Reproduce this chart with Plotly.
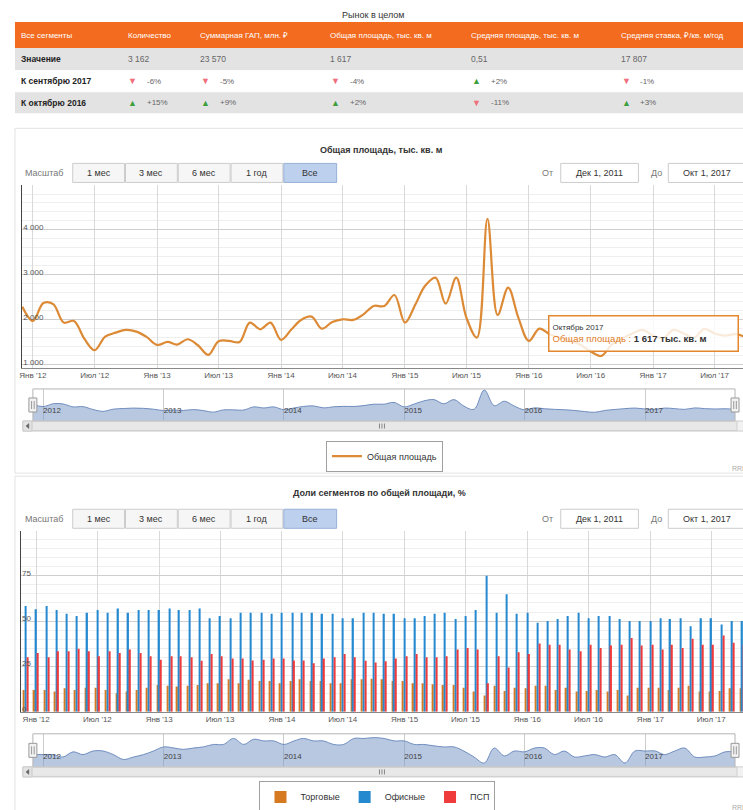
import plotly.graph_objects as go
import pandas as pd

W, H = 743, 810          # reference pixel grid
FIG_H = 814


def X(px):
    return px / W


def Y(py):
    return 1 - py / H


# ---------------- data ----------------
months = pd.date_range("2011-12-01", "2017-10-01", freq="MS")  # Дек 2011 .. Окт 2017

total_area = [2294, 1977, 2376, 2350, 1940, 1977, 1577, 1326, 1628, 1717, 1777, 1740,
              1622, 1444, 1510, 1451, 1570, 1437, 1222, 1526, 1533, 1510, 1940, 1792,
              1940, 1555, 1792, 2000, 2073, 1806, 1955, 2014, 2000, 2125, 2310, 2310,
              2554, 1940, 2347, 2754, 2940, 2362, 2940, 2050, 1606, 4250, 2110, 2717,
              2051, 1533, 1806, 1688, 1600, 1550, 1450, 1300, 1200, 1450, 1585, 1700,
              1780, 1650, 1600, 1780, 1700, 1600, 1800, 1700, 1650, 1684, 1617]

share_retail = [12.0, 12.0, 12.0, 11.1, 13.0, 12.0, 13.3, 13.3, 12.0, 10.2, 11.1, 12.0,
                13.3, 14.8, 14.4, 13.9, 14.4, 14.8, 15.7, 15.7, 17.9, 15.7, 17.6, 17.0,
                17.0, 15.7, 17.0, 17.9, 17.0, 17.0, 15.7, 15.7, 17.9, 17.9, 18.2,
                17.9, 17.0, 17.0, 15.7, 15.7, 15.2, 14.8, 14.8, 13.3, 11.1,
                8.9, 14.4, 11.5, 13.3, 13.0, 14.4, 14.4, 12.0, 13.3, 11.1,
                11.5, 12.0, 11.1, 12.0, 8.9, 13.3, 13.3, 13.3, 12.0, 13.3,
                14.4, 11.1, 11.1, 11.5, 13.0, 13.0]

share_office = [58.3, 56.5, 58.3, 56.1, 54.1, 52.8, 54.6, 56.1, 54.6, 57.0, 54.6, 56.1,
                56.1, 56.1, 57.0, 56.1, 56.1, 57.0, 51.5, 52.8, 51.5, 54.6, 54.6, 54.6,
                54.1, 54.6, 54.6, 54.6, 54.6, 54.1, 54.1, 51.5, 51.5, 54.6, 54.6,
                54.1, 54.1, 51.5, 51.5, 52.8, 54.1, 54.6, 51.1, 52.8, 56.1,
                75.0, 54.6, 64.8, 54.1, 54.6, 49.1, 50.0, 51.1, 52.8, 54.6,
                51.5, 52.8, 52.8, 51.1, 50.0, 50.0, 50.0, 51.5, 51.1, 51.5,
                47.2, 51.5, 51.5, 48.1, 50.0, 50.0]

share_industrial = [30.0, 32.4, 30.0, 33.3, 33.3, 34.8, 33.3, 30.6, 33.3, 32.4, 34.3, 32.4,
                    30.6, 28.7, 30.6, 30.6, 30.0, 28.1, 31.9, 30.6, 29.3, 29.3, 28.3, 28.7,
                    29.3, 29.3, 28.3, 28.3, 26.8, 29.3, 30.0, 31.9, 30.0, 28.1, 27.2,
                    27.8, 29.3, 30.6, 31.9, 30.0, 30.0, 30.6, 34.3, 35.2, 34.3,
                    15.7, 30.6, 24.4, 32.8, 31.9, 37.6, 37.0, 37.0, 34.3, 33.3,
                    37.0, 35.2, 36.5, 37.0, 40.7, 36.5, 37.0, 34.3, 37.0, 35.2,
                    40.2, 37.0, 37.0, 42.0, 38.0, 37.0]

table_title = "Рынок в целом"
table_header = ["Все сегменты", "Количество", "Суммарная ГАП, млн. ₽",
                "Общая площадь, тыс. кв. м", "Средняя площадь, тыс. кв. м",
                "Средняя ставка, ₽/кв. м/год"]
row_labels = ["Значение", "К сентябрю 2017", "К октябрю 2016"]
values_now = ["3 162", "23 570", "1 617", "0,51", "17 807"]
chg_sep2017 = [-6, -5, -4, 2, -1]
chg_oct2016 = [15, 9, 2, -11, 3]

tick_dates = ["2012-01-01", "2012-07-01", "2013-01-01", "2013-07-01", "2014-01-01",
              "2014-07-01", "2015-01-01", "2015-07-01", "2016-01-01", "2016-07-01",
              "2017-01-01", "2017-07-01"]
tick_labels = ["Янв '12", "Июл '12", "Янв '13", "Июл '13", "Янв '14", "Июл '14",
               "Янв '15", "Июл '15", "Янв '16", "Июл '16", "Янв '17", "Июл '17"]
nav_dates = ["2012-01-01", "2013-01-01", "2014-01-01", "2015-01-01", "2016-01-01", "2017-01-01"]
nav_labels = ["2012", "2013", "2014", "2015", "2016", "2017"]

chart1_title = "Общая площадь, тыс. кв. м"
chart2_title = "Доли сегментов по общей площади, %"
zoom_label = "Масштаб"
zoom_buttons = ["1 мес", "3 мес", "6 мес", "1 год", "Все"]
date_from = "Дек 1, 2011"
date_to = "Окт 1, 2017"
series_line = "Общая площадь"
series_bars = ["Торговые", "Офисные", "ПСП"]
tooltip_month = "Октябрь 2017"
unit = "тыс. кв. м"

# ---------------- styles ----------------
ORANGE = "#f26b1f"
LINE_C = "#dc8a35"
BAR_COLORS = ["#d67a22", "#2589d0", "#ef3b3b"]
GRID = "#d9d9d9"
MINOR = "#efefef"
FONT = "Liberation Sans, Arial, sans-serif"


def px_to_date(px, anchor_px, anchor_date, px_per_day):
    return pd.Timestamp(anchor_date) + pd.Timedelta(days=(px - anchor_px) / px_per_day)


L1 = 19
x1_range = [px_to_date(L1, 30, "2012-01-01", 0.3411), px_to_date(W, 652.7, "2017-01-01", 0.3411)]
L3 = 17.7
x3_range = [px_to_date(L3, 33.3, "2012-01-01", 0.3377), px_to_date(W, 650, "2017-01-01", 0.3377)]
NAV_L, NAV_R = 30, 735

fig = go.Figure()

# ---------------- line chart ----------------
fig.add_trace(go.Scatter(x=months, y=total_area, mode="lines", name=series_line,
                         line=dict(color=LINE_C, width=2.2, shape="spline", smoothing=1),
                         xaxis="x", yaxis="y", legend="legend", hoverinfo="skip"))
fig.add_trace(go.Scatter(x=months, y=total_area, mode="lines", fill="tozeroy",
                         fillcolor="rgba(125,155,200,0.55)",
                         line=dict(color="#6f8dbf", width=1, shape="spline"),
                         xaxis="x2", yaxis="y2", showlegend=False, hoverinfo="skip"))

# ---------------- bar chart ----------------
for name, vals, col in zip(series_bars, [share_retail, share_office, share_industrial], BAR_COLORS):
    fig.add_trace(go.Bar(x=months, y=vals, name=name, marker=dict(color=col, line=dict(width=0)),
                         xaxis="x3", yaxis="y3", legend="legend2", hoverinfo="skip"))
fig.add_trace(go.Scatter(x=months, y=share_retail, mode="lines", fill="tozeroy",
                         fillcolor="rgba(125,155,200,0.55)",
                         line=dict(color="#6f8dbf", width=1, shape="spline"),
                         xaxis="x4", yaxis="y4", showlegend=False, hoverinfo="skip"))

shapes = []
annotations = []


def rect(x0, y0, x1, y1, fill, line, width=1, layer="above"):
    shapes.append(dict(type="rect", xref="paper", yref="paper", x0=X(x0), x1=X(x1),
                       y0=Y(y1), y1=Y(y0), fillcolor=fill,
                       line=dict(color=line, width=width), layer=layer))


def seg(x0, y0, x1, y1, color, width=1):
    shapes.append(dict(type="line", xref="paper", yref="paper", x0=X(x0), x1=X(x1),
                       y0=Y(y0), y1=Y(y1), line=dict(color=color, width=width)))


def text(px, py, s, size=9, color="#333", xanchor="center"):
    annotations.append(dict(xref="paper", yref="paper", x=X(px), y=Y(py), text=s,
                            showarrow=False, xanchor=xanchor, yanchor="middle",
                            font=dict(size=size, color=color, family=FONT)))


# ---------------- table (built from the lists above) ----------------
text(372, 15, table_title, size=9, color="#333")
col_x = [16, 123, 196, 326, 468, 618]
row_y = [(48, 70), (70, 92), (92, 113)]
row_fill = ["#e3e3e3", "#ffffff", "#e3e3e3"]
rect(12, 22, 746, 48, ORANGE, ORANGE, width=0, layer="below")
for hx, h in zip(col_x, table_header):
    text(hx, 35, h, size=8, color="white", xanchor="left")
for (y0, y1), fill in zip(row_y, row_fill):
    rect(12, y0, 746, y1, fill, fill, width=0, layer="below")
row_data = [values_now, chg_sep2017, chg_oct2016]
for r, ((y0, y1), lab, vals) in enumerate(zip(row_y, row_labels, row_data)):
    yc = (y0 + y1) / 2
    text(col_x[0], yc, f"<b>{lab}</b>", size=8.5, color="#222", xanchor="left")
    for cx, v in zip(col_x[1:], vals):
        if r == 0:
            text(cx, yc, v, size=8.5, color="#666", xanchor="left")
        else:
            up = v > 0
            text(cx + 1, yc, "▲" if up else "▼", size=9,
                 color="#3f9f3f" if up else "#ef6f7c", xanchor="left")
            text(cx + 20, yc, f"{v:+d}%", size=8, color="#666", xanchor="left")

# panel frames
rect(12, 128, 746, 472, "rgba(0,0,0,0)", "#e2e2e2", layer="below")
rect(12, 475, 746, 812, "rgba(0,0,0,0)", "#e2e2e2", layer="below")

text(380, 150, f"<b>{chart1_title}</b>", size=9, color="#333")
text(378, 492, f"<b>{chart2_title}</b>", size=9, color="#333")


def range_row(yc):
    text(42, yc, zoom_label, size=9, color="#777")
    xs = [(70, 122), (123, 175), (176, 228), (229, 281), (282, 335)]
    for (a, b), lab in zip(xs, zoom_buttons):
        sel = lab == zoom_buttons[-1]
        rect(a, yc - 9.5, b, yc + 9.5, "#bdd0ee" if sel else "#f6f6f6",
             "#98b0d8" if sel else "#cccccc")
        text((a + b) / 2, yc, lab, size=9, color="#333")
    text(547, yc, "От", size=9, color="#777")
    rect(560, yc - 9.5, 638, yc + 9.5, "white", "#cccccc")
    text(599, yc, date_from, size=9, color="#333")
    text(656, yc, "До", size=9, color="#777")
    rect(668, yc - 9.5, 746, yc + 9.5, "white", "#cccccc")
    text(707, yc, date_to, size=9, color="#333")


range_row(172.5)
range_row(517.5)


def navigator_decor(ytop, ybot):
    rect(NAV_L, ytop, NAV_R, ybot, "rgba(0,0,0,0)", "#b5b5b5")
    for hx in (NAV_L, NAV_R):
        yc = (ytop + ybot) / 2
        rect(hx - 4, yc - 7, hx + 4, yc + 7, "#f2f2f2", "#999999")
        seg(hx - 1.3, yc - 4, hx - 1.3, yc + 4, "#999999")
        seg(hx + 1.3, yc - 4, hx + 1.3, yc + 4, "#999999")
    sb0, sb1 = ybot, ybot + 10
    rect(20, sb0, 746, sb1, "#f2f2f2", "#cccccc")
    rect(29, sb0 + 0.5, 737, sb1 - 0.5, "#e8e8e8", "#cfcfcf")
    rect(20, sb0, 29, sb1, "#e4e4e4", "#cccccc")
    shapes.append(dict(type="path", xref="paper", yref="paper",
                       path=f"M {X(26)} {Y(sb0 + 2.5)} L {X(23)} {Y(sb0 + 5)} L {X(26)} {Y(sb0 + 7.5)} Z",
                       fillcolor="#666", line=dict(color="#666", width=0.5)))
    for gx in (378, 380.5, 383):
        seg(gx, sb0 + 2.5, gx, sb1 - 2.5, "#888888")


navigator_decor(388, 420)
navigator_decor(732, 765)

# tooltip
val_txt = f"{total_area[-1]:,}".replace(",", " ")
tip = (f"<span style='font-size:8px;color:#333'>{tooltip_month}</span><br>"
       f"<span style='color:#e07b24'>{series_line} : </span>"
       f"<b>{val_txt} {unit}</b>")
annotations.append(dict(xref="paper", yref="paper", x=X(547), y=Y(314), xanchor="left",
                        yanchor="top", text=tip, showarrow=False, align="left",
                        width=182, height=28, valign="middle",
                        bgcolor="rgba(255,255,255,0.82)", bordercolor="#e3872f",
                        borderwidth=1.5, borderpad=3,
                        font=dict(size=9.5, color="#333", family=FONT)))

text(738, 467, "RRI", size=7, color="#aaa")
text(738, 806, "RRI", size=7, color="#aaa")

axis_font = dict(size=8, color="#555", family=FONT)

fig.update_layout(
    width=W, height=FIG_H, margin=dict(l=0, r=0, t=0, b=0),
    paper_bgcolor="white", plot_bgcolor="white",
    separators=", ", hovermode=False,
    font=dict(family=FONT, size=9, color="#333"),
    barmode="group", bargap=0.4, bargroupgap=0.3,
    shapes=shapes, annotations=annotations,
    xaxis=dict(domain=[X(L1), 1], anchor="y", type="date", range=x1_range,
               tickvals=tick_dates, ticktext=tick_labels, showgrid=True, gridcolor=GRID,
               showline=True, linecolor="#888", ticks="", tickfont=axis_font, zeroline=False,
               ticklabeloverflow="allow"),
    yaxis=dict(domain=[Y(366.7), Y(185)], anchor="x", range=[940, 4990],
               tickvals=[1000, 2000, 3000, 4000], tickformat=",d",
               ticklabelposition="inside", ticklabelshift=-3, ticklabeloverflow="allow",
               tickfont=axis_font,
               showgrid=True, gridcolor="#cfcfcf", showline=True, linecolor="#444",
               minor=dict(dtick=200, showgrid=True, gridcolor=MINOR), zeroline=False),
    xaxis2=dict(domain=[X(NAV_L), X(NAV_R)], anchor="y2", type="date",
                range=[months[0], months[-1]], tickvals=nav_dates, ticktext=nav_labels,
                ticklabelposition="inside right", ticklabeloverflow="allow",
                showgrid=True, gridcolor="#cccccc",
                tickfont=dict(size=8, color="#444", family=FONT), ticks="", showline=False,
                zeroline=False),
    yaxis2=dict(domain=[Y(420), Y(388)], anchor="x2", range=[0, 4400], visible=False),
    xaxis3=dict(domain=[X(L3), 1], anchor="y3", type="date", range=x3_range,
                tickvals=tick_dates, ticktext=tick_labels, showgrid=True, gridcolor=GRID,
                showline=True, linecolor="#888", ticks="", tickfont=axis_font, zeroline=False,
                ticklabeloverflow="allow"),
    yaxis3=dict(domain=[Y(710), Y(530)], anchor="x3", range=[0, 99.5],
                tickvals=[0, 25, 50, 75], ticklabelposition="inside", ticklabelshift=-3,
                ticklabeloverflow="allow",
                tickfont=axis_font, showgrid=True, gridcolor="#cfcfcf", showline=True,
                linecolor="#444", minor=dict(dtick=5, showgrid=True, gridcolor=MINOR),
                zeroline=False),
    xaxis4=dict(domain=[X(NAV_L), X(NAV_R)], anchor="y4", type="date",
                range=[months[0], months[-1]], tickvals=nav_dates, ticktext=nav_labels,
                ticklabelposition="inside right", ticklabeloverflow="allow",
                showgrid=True, gridcolor="#cccccc",
                tickfont=dict(size=8, color="#444", family=FONT), ticks="", showline=False,
                zeroline=False),
    yaxis4=dict(domain=[Y(765), Y(732)], anchor="x4", range=[7.5, 19.6], visible=False),
    legend=dict(x=X(383), y=Y(455), xanchor="center", yanchor="middle", orientation="h",
                bordercolor="#a0a0a0", borderwidth=1, bgcolor="white",
                font=dict(size=9, color="#333", family=FONT)),
    legend2=dict(x=X(376), y=Y(795), xanchor="center", yanchor="middle", orientation="h",
                 bordercolor="#a0a0a0", borderwidth=1, bgcolor="white", itemwidth=30,
                 font=dict(size=9, color="#333", family=FONT)),
)

post = "document.body.style.margin='0';"
fig.write_html("out.html", config={"displayModeBar": False}, post_script=post)
